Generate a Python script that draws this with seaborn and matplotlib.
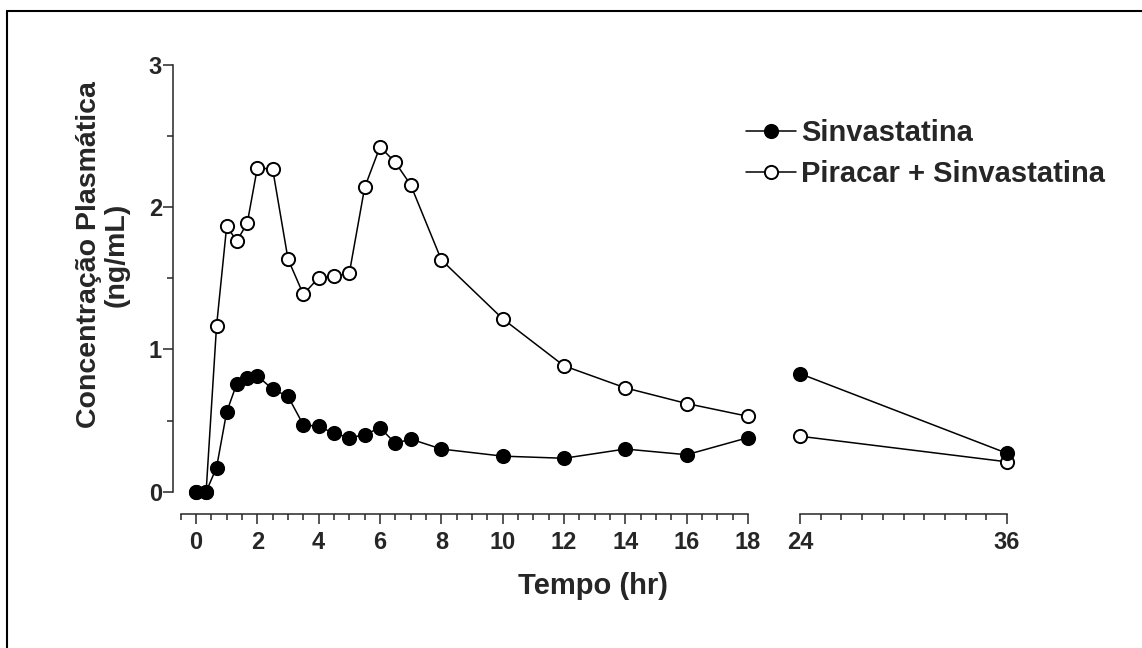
import matplotlib
matplotlib.use("Agg")
import matplotlib.pyplot as plt
from matplotlib.lines import Line2D
from matplotlib.ticker import MultipleLocator, FixedLocator
import seaborn as sns
import pandas as pd
import numpy as np

# Data
tempo = [0, 0.33, 0.67, 1, 1.33, 1.67, 2, 2.5, 3, 3.5, 4, 4.5, 5, 5.5, 6,
         6.5, 7, 8, 10, 12, 14, 16, 18, 24, 36]
sinvastatina = [0, 0, 0.17, 0.56, 0.76, 0.80, 0.815, 0.72, 0.67, 0.47, 0.46,
                0.41, 0.38, 0.40, 0.45, 0.34, 0.37, 0.30, 0.25, 0.235, 0.30,
                0.26, 0.38, 0.83, 0.27]
piracar_sinva = [0, 0, 1.165, 1.866, 1.763, 1.887, 2.277, 2.268, 1.636, 1.387,
                 1.505, 1.514, 1.537, 2.139, 2.425, 2.315, 2.157, 1.63, 1.216,
                 0.885, 0.73, 0.62, 0.53, 0.39, 0.21]
labels = ["Sinvastatina", "Piracar + Sinvastatina"]

df = pd.DataFrame({"tempo": tempo, labels[0]: sinvastatina, labels[1]: piracar_sinva})

sns.set_style("ticks")
plt.rcParams["font.family"] = ["Liberation Sans", "DejaVu Sans"]
plt.rcParams["font.weight"] = "bold"

W, H = 1142, 648
fig = plt.figure(figsize=(W / 100, H / 100), dpi=100)

y0_px, y3_px = 491.7, 65
bottom = (H - y0_px) / H
height = (y0_px - y3_px) / H
ax1 = fig.add_axes([173 / W, bottom, (748 - 173) / W, height])
ax2 = fig.add_axes([800 / W, bottom, (1007 - 800) / W, height])

styles = {labels[0]: "black", labels[1]: "white"}
segments = [(ax1, df[df.tempo <= 18]), (ax2, df[df.tempo >= 24])]
for ax, part in segments:
    for name in [labels[1], labels[0]]:
        sns.lineplot(data=part, x="tempo", y=name, ax=ax, color="black",
                     linewidth=1.1, marker="o", markersize=9.5,
                     markerfacecolor=styles[name], markeredgecolor="black",
                     markeredgewidth=1.4, estimator=None, sort=False,
                     clip_on=False, zorder=3)
    ax.set_ylim(0, 3)
    ax.set_xlabel("")
    ax.set_ylabel("")
    ax.spines["top"].set_visible(False)
    ax.spines["right"].set_visible(False)
    ax.spines["bottom"].set_position(("outward", 16))
    for sp in ax.spines.values():
        sp.set_linewidth(1.1)
    ax.tick_params(axis="x", which="major", length=7, width=1.1, pad=5, labelsize=17)
    ax.tick_params(axis="x", which="minor", length=4, width=1.1)
    ax.set_facecolor("none")

ax1.set_xlim(-0.75, 18)
ax1.spines["bottom"].set_bounds(-0.5, 18)
ax1.xaxis.set_major_locator(FixedLocator(np.arange(0, 19, 2)))
ax1.xaxis.set_minor_locator(FixedLocator(np.arange(-0.5, 18.01, 0.5)))
ax1.yaxis.set_major_locator(MultipleLocator(1))
ax1.yaxis.set_minor_locator(MultipleLocator(0.5))
ax1.tick_params(axis="y", which="major", length=7, width=1.1, pad=1, labelsize=17)
ax1.tick_params(axis="y", which="minor", length=4, width=1.1)

ax2.set_xlim(24, 36)
ax2.xaxis.set_major_locator(FixedLocator([24, 36]))
ax2.xaxis.set_minor_locator(FixedLocator(np.linspace(24, 36, 11)))
ax2.spines["left"].set_visible(False)
ax2.set_yticks([])

for ax in (ax1, ax2):
    for lab in ax.get_xticklabels() + ax.get_yticklabels():
        lab.set_fontweight("bold")

fig.text(593 / W, 1 - 586 / H, "Tempo (hr)", ha="center", va="center",
         fontsize=21, fontweight="bold")
fig.text(103 / W, 1 - 255 / H, "Concentração Plasmática\n(ng/mL)", ha="center",
         va="center", rotation=90, fontsize=20.5, fontweight="bold",
         linespacing=1.1, multialignment="center")

handles = [
    Line2D([], [], color="black", linewidth=1.1, marker="o", markersize=9.5,
           markerfacecolor="black", markeredgecolor="black", markeredgewidth=1.4),
    Line2D([], [], color="black", linewidth=1.1, marker="o", markersize=9.5,
           markerfacecolor="white", markeredgecolor="black", markeredgewidth=1.4),
]
leg = fig.legend(handles, labels, loc="upper left",
                 bbox_to_anchor=(720 / W, 1 - 93 / H), frameon=False,
                 handlelength=1.7, handletextpad=0.17, labelspacing=0.45,
                 borderpad=0.4, prop={"size": 21, "weight": "bold"})

# outer frame (top and left edges visible)
fig.add_artist(Line2D([7 / W, 1], [1 - 11 / H, 1 - 11 / H], color="black",
                      linewidth=1.5, transform=fig.transFigure))
fig.add_artist(Line2D([7 / W, 7 / W], [0, 1 - 11 / H], color="black",
                      linewidth=1.5, transform=fig.transFigure))

fig.savefig("out.png", dpi=100)
